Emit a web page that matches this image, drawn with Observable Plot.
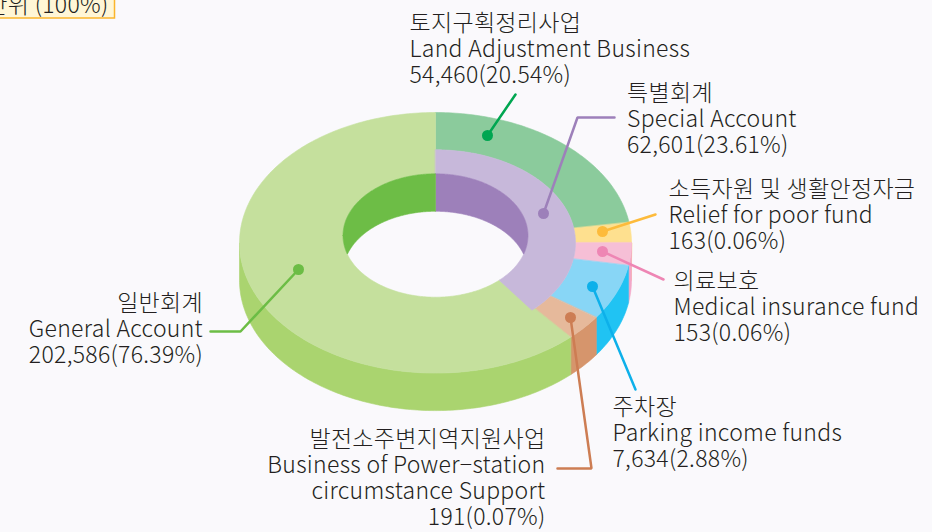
<!DOCTYPE html>
<html>
<head>
<meta charset="utf-8">
<script src="https://cdn.jsdelivr.net/npm/d3@7"></script>
<script src="https://cdn.jsdelivr.net/npm/@observablehq/plot@0.6"></script>
<style>
  html, body { margin: 0; padding: 0; background: #faf9fc; overflow: hidden; }
  #chart svg { display: block; }
</style>
</head>
<body>
<div id="chart"></div>
<script>
// ---------------- DATA ----------------
// Outer ring, clockwise from 12 o'clock
const keys      = ["land", "relief", "medical", "parking", "power", "general"];
const namesKo   = ["토지구획정리사업", "소득자원 및 생활안정자금", "의료보호", "주차장", "발전소주변지역지원사업", "일반회계"];
const namesEn   = ["Land Adjustment Business", "Relief for poor fund", "Medical insurance fund",
                   "Parking income funds", "Business of Power−station\ncircumstance Support", "General Account"];
const amounts   = [54460, 163, 153, 7634, 191, 202586];
const percents  = [20.54, 0.06, 0.06, 2.88, 0.07, 76.39];
// share of the circle each slice takes as drawn in the picture (small funds are exaggerated there)
const drawnShares = [22.5, 2.5, 2.8, 6.9, 3.2, 62.1];

// Inner ring: special account groups the first five funds
const specialKo = "특별회계";
const specialEn = "Special Account";
const specialAmount = 62601;
const specialPercent = 23.61;
const specialMembers = ["land", "relief", "medical", "parking", "power"];

const unitLabel = "단위 (100%)";

// ---------------- STYLE / LAYOUT ----------------
const colors = {
  land:    {top: "#8bcb9c", side: "#6fbf86", lead: "#00a651"},
  relief:  {top: "#fee08f", side: "#fdd06a", lead: "#fdbb3b"},
  medical: {top: "#f6bfd6", side: "#f3a7c8", lead: "#ee86b4"},
  parking: {top: "#88d6f6", side: "#20c3f3", lead: "#0db0ea"},
  power:   {top: "#e6b99b", side: "#d6956c", lead: "#cd7d53"},
  general: {top: "#c5e09d", side: "#aad46f", wall: "#6dbd46", lead: "#6cbd45"},
  special: {top: "#c7b8da", wall: "#9d80ba", lead: "#9d80ba"}
};
const G = {cx: 435, depth: 37.5};
const ringHole  = {rx: 92.5, ry: 61.7, cy: 235};
const ringMid   = {rx: 140,  ry: 93,   cy: 242.3};
const ringOuter = {rx: 196,  ry: 130.3, cy: 242.3};

// label layout: anchor x, first baseline, anchor side, leader polyline (dot first)
const layout = {
  land:    {x: 409,   b: 30.5,  anchor: "start", lead: [[487,135],[515,94]]},
  special: {x: 626.5, b: 100.5, anchor: "start", lead: [[543,213],[577,117],[614,117]]},
  relief:  {x: 668,   b: 196.5, anchor: "start", lead: [[602,231],[655,214]]},
  medical: {x: 673,   b: 288,   anchor: "start", lead: [[602,251],[663,279]]},
  parking: {x: 612,   b: 414.5, anchor: "start", lead: [[592,286],[635,389]]},
  power:   {x: 545,   b: 446,   anchor: "end",   lead: [[570,317],[591,468],[557,468]]},
  general: {x: 202.5, b: 310,   anchor: "end",   lead: [[298,269],[240,331],[210,331]]}
};
const LH = 26.2, FS = 23;

// ---------------- GEOMETRY ----------------
const rows = keys.map((k, i) => ({key: k, share: drawnShares[i]}));
const arcs = d3.pie().sort(null).value(d => d.share)(rows);
const arcOf = Object.fromEntries(arcs.map(a => [a.data.key, a]));
const spStart = d3.min(specialMembers, k => arcOf[k].startAngle);
const spEnd   = d3.max(specialMembers, k => arcOf[k].endAngle);

const pt = (ring, t, dy = 0) => ({x: G.cx + ring.rx * Math.sin(t), y: ring.cy - ring.ry * Math.cos(t) + dy});
function arcPts(ring, a0, a1, dy = 0) {
  const n = Math.max(2, Math.ceil(Math.abs(a1 - a0) / (Math.PI / 180)));
  return d3.range(n + 1).map(i => pt(ring, a0 + (a1 - a0) * i / n, dy));
}
const sides = [], tops = [], walls = [];
function add(arr, id, color, pts) { pts.forEach(p => arr.push({id, color, x: p.x, y: p.y})); }

// outer side walls (front half: pi/2 .. 3pi/2)
arcs.forEach(a => {
  const s0 = Math.max(a.startAngle, Math.PI / 2), s1 = Math.min(a.endAngle, 3 * Math.PI / 2);
  if (s1 > s0) add(sides, "side-" + a.data.key, colors[a.data.key].side,
    arcPts(ringOuter, s0, s1).concat(arcPts(ringOuter, s1, s0, G.depth)));
});
// top faces
arcs.forEach(a => {
  const k = a.data.key;
  const inner = k === "general" ? ringHole : ringMid;
  add(tops, "top-" + k, colors[k].top,
    arcPts(ringOuter, a.startAngle, a.endAngle).concat(arcPts(inner, a.endAngle, a.startAngle)));
});
add(tops, "top-special", colors.special.top,
  arcPts(ringMid, spStart, spEnd).concat(arcPts(ringHole, spEnd, spStart)));

// hole inner walls (back half visible)
const innerSlices = [
  {key: "special", a0: spStart, a1: spEnd},
  {key: "general", a0: arcOf.general.startAngle, a1: arcOf.general.endAngle}
];
const backIntervals = [[0, Math.PI / 2], [3 * Math.PI / 2, 2 * Math.PI]];
innerSlices.forEach(s => backIntervals.forEach(([b0, b1], j) => {
  const w0 = Math.max(s.a0, b0), w1 = Math.min(s.a1, b1);
  if (w1 <= w0) return;
  const n = Math.ceil((w1 - w0) / (Math.PI / 360));
  const ts = d3.range(n + 1).map(i => w0 + (w1 - w0) * i / n);
  const upper = ts.map(t => pt(ringHole, t));
  const lower = ts.slice().reverse().map(t => {
    const p = pt(ringHole, t);
    const front = ringHole.cy + ringHole.ry * Math.cos(t);
    return {x: p.x, y: Math.min(p.y + G.depth, front)};
  });
  add(walls, "wall-" + s.key + j, colors[s.key].wall, upper.concat(lower));
}));

// ---------------- LABELS ----------------
const fmt = d3.format(",");
const labelItems = keys.map((k, i) => ({key: k, ko: namesKo[i], en: namesEn[i], amt: amounts[i], pct: percents[i]}));
labelItems.push({key: "special", ko: specialKo, en: specialEn, amt: specialAmount, pct: specialPercent});
const textLines = [];
labelItems.forEach(d => {
  const L = layout[d.key];
  const lines = [d.ko, ...d.en.split("\n"), `${fmt(d.amt)}(${d.pct.toFixed(2)}%)`];
  lines.forEach((t, j) => textLines.push({x: L.x, y: L.b + j * LH, text: t, anchor: L.anchor}));
});
const leadLines = [], leadDots = [];
labelItems.forEach(d => {
  const L = layout[d.key];
  const c = colors[d.key].lead;
  L.lead.forEach(([x, y]) => leadLines.push({id: d.key, color: c, x, y}));
  leadDots.push({color: c, x: L.lead[0][0], y: L.lead[0][1]});
});

// ---------------- PLOT ----------------
const polyOpts = {x: "x", y: "y", z: "id", fill: "color", stroke: "color", strokeWidth: 0.6, curve: "linear-closed"};
const textOpts = {x: "x", y: "y", text: "text", lineAnchor: "bottom", fontSize: FS, fontWeight: 300, fill: "#231f20"};

const chart = Plot.plot({
  width: 932, height: 532, margin: 0,
  x: {domain: [0, 932], range: [0, 932], axis: null},
  y: {domain: [0, 532], range: [0, 532], axis: null},
  color: {type: "identity"},
  style: {background: "transparent", fontFamily: "'Noto Sans CJK KR', 'Noto Sans', sans-serif", letterSpacing: "0.3px"},
  marks: [
    Plot.rect([{x1: -6, x2: 114.5, y1: -6, y2: 18}], {x1: "x1", x2: "x2", y1: "y1", y2: "y2", fill: "#fff6d6", stroke: "#fbb52b", strokeWidth: 1.5}),
    Plot.text([unitLabel], {x: () => 108, y: () => 12.5, text: d => d, textAnchor: "end", lineAnchor: "bottom", fontSize: FS, fontWeight: 300, fill: "#231f20"}),
    Plot.line(sides, polyOpts),
    Plot.line(tops, polyOpts),
    Plot.line(walls, polyOpts),
    Plot.line(leadLines, {x: "x", y: "y", z: "id", stroke: "color", strokeWidth: 2.5, strokeLinejoin: "miter"}),
    Plot.dot(leadDots, {x: "x", y: "y", r: 5.5, fill: "color", stroke: "none"}),
    Plot.text(textLines.filter(d => d.anchor === "start"), {...textOpts, textAnchor: "start"}),
    Plot.text(textLines.filter(d => d.anchor === "end"), {...textOpts, textAnchor: "end"})
  ]
});
document.getElementById("chart").appendChild(chart);
</script>
</body>
</html>
